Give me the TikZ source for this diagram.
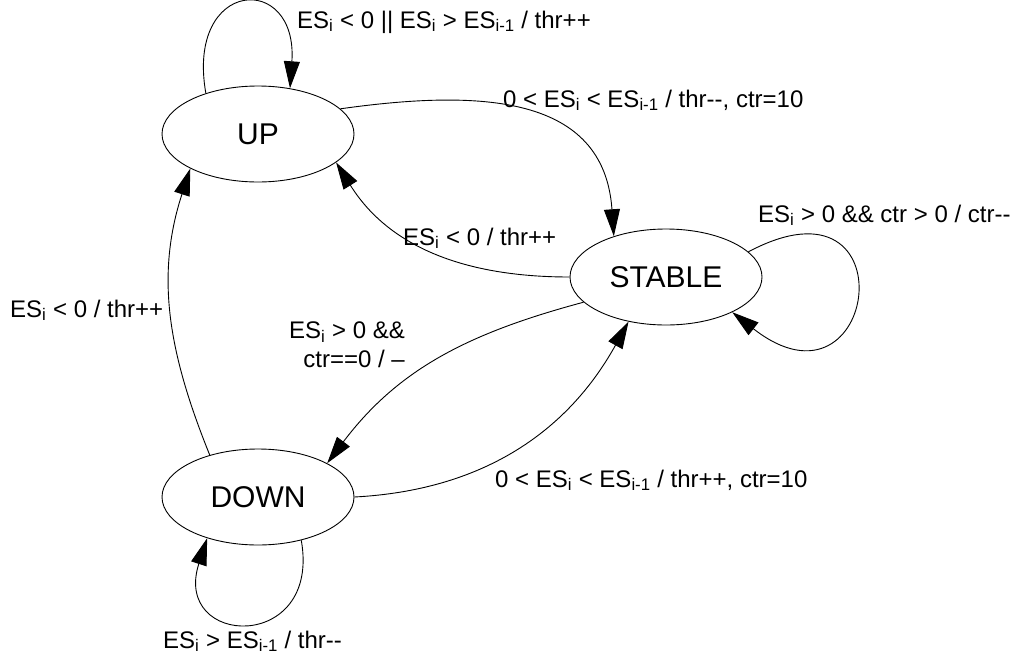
\documentclass[tikz,border=0pt]{standalone}
\usepackage{fontspec}
\setmainfont{Liberation Sans}
\usetikzlibrary{arrows.meta,shapes.geometric,positioning}
\newcommand{\dmin}{-\kern0pt-}

\begin{document}
\begin{tikzpicture}[x=1pt,y=1pt,node distance=363pt,>={Triangle[length=27pt,width=16pt]}]
\tikzstyle {state}=[ellipse, draw=black, line width=0.9pt, minimum width=192pt, minimum height=96pt, inner sep=0pt, font=\fontsize{30}{36}\selectfont]
\tikzstyle {trans}=[->, line width=0.9pt]
\tikzstyle {lbl}=[inner sep=0pt, anchor=base west, font=\fontsize{24}{29}\selectfont]
\useasboundingbox (0,0) rectangle (1013,-659);
\node (up) [state] at (258,-134) {UP};
\node (down) [state, below of=up] {DOWN};
\node (stable) [state, right of=up, node distance=408pt, yshift=-143pt] {STABLE};
% transitions
\draw [trans] (up.142) .. controls +(100:117) and +(86:117) .. (up.55);
\draw [trans] (up.17) to[out=8,in=94,looseness=1.2] (stable.142);
\draw [trans] (stable.17) .. controls +(28:185) and +(-38:185) .. (stable.-28);
\draw [trans] (stable.180) to[out=180,in=-58] (up.-20);
\draw [trans] (down.139) to[out=112,in=-108] (up.207);
\draw [trans] (stable.197) to[out=195,in=53] (down.26);
\draw [trans] (down.0) to[out=3,in=-119] (stable.230);
\draw [trans] (down.-45) .. controls +(-80:115) and +(-108:115) .. (down.219);
% labels
\node (uploop) [lbl] at (297,-28) {ES\textsubscript{i} < 0 || ES\textsubscript{i} > ES\textsubscript{i-1} / thr++};
\node (upstable) [lbl] at (503,-107) {0 < ES\textsubscript{i} < ES\textsubscript{i-1} / thr\dmin, ctr=10};
\node (stableloop) [lbl] at (758,-222) {ES\textsubscript{i} > 0 \&\& ctr > 0 / ctr\dmin};
\node (stableup) [lbl] at (403,-245) {ES\textsubscript{i} < 0 / thr++};
\node (downup) [lbl] at (10,-317) {ES\textsubscript{i} < 0 / thr++};
\node (stabledown) [lbl, anchor=north east, align=right] at (405,-322) {ES\textsubscript{i} > 0 \&\&\\ctr==0 / –};
\node (downstable) [lbl] at (495,-487) {0 < ES\textsubscript{i} < ES\textsubscript{i-1} / thr++, ctr=10};
\node (downloop) [lbl] at (163,-648) {ES\textsubscript{i} > ES\textsubscript{i-1} / thr\dmin};
\end{tikzpicture}
\end{document}
